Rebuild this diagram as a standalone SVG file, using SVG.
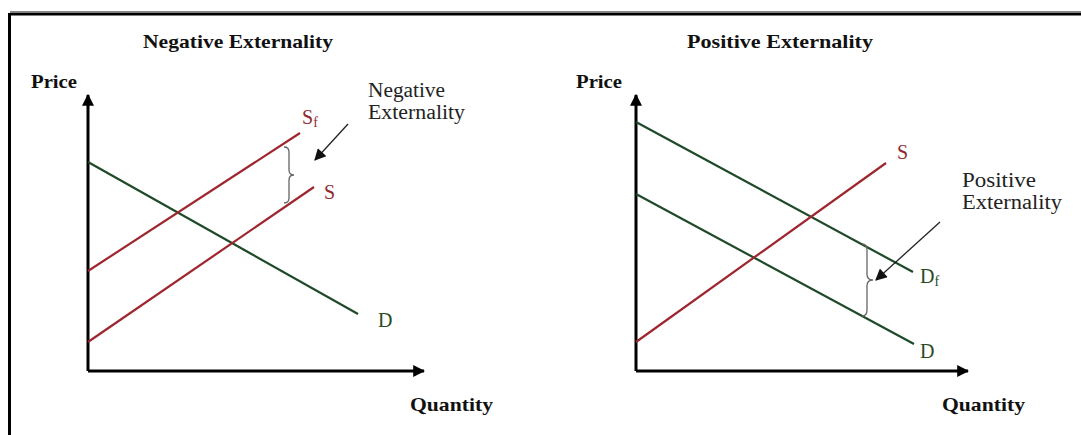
<svg xmlns="http://www.w3.org/2000/svg" width="1081" height="435" viewBox="0 0 1081 435">
<defs>
<style>
.title{font-family:"Liberation Serif",serif;font-weight:bold;font-size:19px;fill:#111}
.axl{font-family:"Liberation Serif",serif;font-weight:bold;font-size:19px;fill:#111}
.ann{font-family:"Liberation Serif",serif;font-size:20px;fill:#222}
.lab{font-family:"Liberation Serif",serif;font-size:20px}
.red{stroke:#9e262e;stroke-width:2.2;fill:none}
.grn{stroke:#1f4a29;stroke-width:2.2;fill:none}
.axis{stroke:#000;stroke-width:3;fill:none}
.brace{stroke:#666;stroke-width:1.3;fill:none}
.ptr{stroke:#222;stroke-width:1.3;fill:none}
</style>
<marker id="axhead" viewBox="0 0 10 10" refX="9" refY="5" markerWidth="4" markerHeight="4" orient="auto" markerUnits="strokeWidth">
<path d="M0,0 L10,5 L0,10 z" fill="#000"/>
</marker>
<marker id="ptrhead" viewBox="0 0 10 10" refX="9" refY="5" markerWidth="10" markerHeight="9" orient="auto" markerUnits="strokeWidth">
<path d="M0,0 L10,5 L0,10 z" fill="#111"/>
</marker>
</defs>
<rect width="1081" height="435" fill="#fff"/>
<g id="frame">
<line x1="10" y1="11.5" x2="1081" y2="11.5" stroke="#888" stroke-width="1"/>
<line x1="10" y1="14" x2="1081" y2="14" stroke="#000" stroke-width="3"/>
<line x1="9.5" y1="13" x2="9.5" y2="435" stroke="#000" stroke-width="3"/>
</g>
<g id="left-chart">
<text class="title" x="238" y="48" text-anchor="middle" textLength="190" lengthAdjust="spacingAndGlyphs">Negative Externality</text>
<text class="axl" x="31" y="88" textLength="46" lengthAdjust="spacingAndGlyphs">Price</text>
<text class="axl" x="410" y="411" textLength="83" lengthAdjust="spacingAndGlyphs">Quantity</text>
</g>
<g id="right-chart">
<text class="title" x="780" y="48" text-anchor="middle" textLength="186" lengthAdjust="spacingAndGlyphs">Positive Externality</text>
<text class="axl" x="576" y="88" textLength="46" lengthAdjust="spacingAndGlyphs">Price</text>
<text class="axl" x="942" y="411" textLength="83" lengthAdjust="spacingAndGlyphs">Quantity</text>
</g>
<g id="connectors">
<path class="axis" d="M88,371 V95" marker-end="url(#axhead)"/>
<path class="axis" d="M88,371 H424" marker-end="url(#axhead)"/>
<path class="axis" d="M636,371 V95" marker-end="url(#axhead)"/>
<path class="axis" d="M636,371 H968" marker-end="url(#axhead)"/>
<line class="grn" x1="88" y1="162" x2="358" y2="314"/>
<line class="red" x1="88" y1="271" x2="300" y2="133"/>
<line class="red" x1="88" y1="342" x2="314" y2="187"/>
<line class="grn" x1="636" y1="122" x2="913" y2="272"/>
<line class="grn" x1="636" y1="194" x2="914" y2="344"/>
<line class="red" x1="636" y1="342" x2="886" y2="163"/>
<path class="brace" d="M284,147 Q289,147 289,152 L289,170 Q289,175 294,175 Q289,175 289,180 L289,198 Q289,203 284,203"/>
<path class="brace" d="M862,244 Q867,244 867,250 L867,274 Q867,280 873,280 Q867,280 867,286 L867,310 Q867,316 862,316"/>
<line class="ptr" x1="348" y1="124" x2="315" y2="160" marker-end="url(#ptrhead)"/>
<line class="ptr" x1="940" y1="222" x2="876" y2="280" marker-end="url(#ptrhead)"/>
</g>
<g id="label-Sf">
<text class="lab" x="302" y="124" fill="#8e2a2e">S<tspan font-size="14" dy="3">f</tspan></text>
</g>
<g id="label-S-left">
<text class="lab" x="324" y="199" fill="#8e2a2e">S</text>
</g>
<g id="label-D-left">
<text class="lab" x="378" y="327" fill="#284a1e">D</text>
</g>
<g id="label-neg">
<text class="ann" x="368" y="97" textLength="77" lengthAdjust="spacingAndGlyphs">Negative</text>
<text class="ann" x="368" y="119" textLength="97" lengthAdjust="spacingAndGlyphs">Externality</text>
</g>
<g id="label-S-right">
<text class="lab" x="897" y="159" fill="#8e2a2e">S</text>
</g>
<g id="label-Df">
<text class="lab" x="920" y="283" fill="#284a1e">D<tspan font-size="14" dy="3">f</tspan></text>
</g>
<g id="label-D-right">
<text class="lab" x="920" y="358" fill="#284a1e">D</text>
</g>
<g id="label-pos">
<text class="ann" x="962" y="187" textLength="74" lengthAdjust="spacingAndGlyphs">Positive</text>
<text class="ann" x="962" y="209" textLength="100" lengthAdjust="spacingAndGlyphs">Externality</text>
</g>
</svg>
